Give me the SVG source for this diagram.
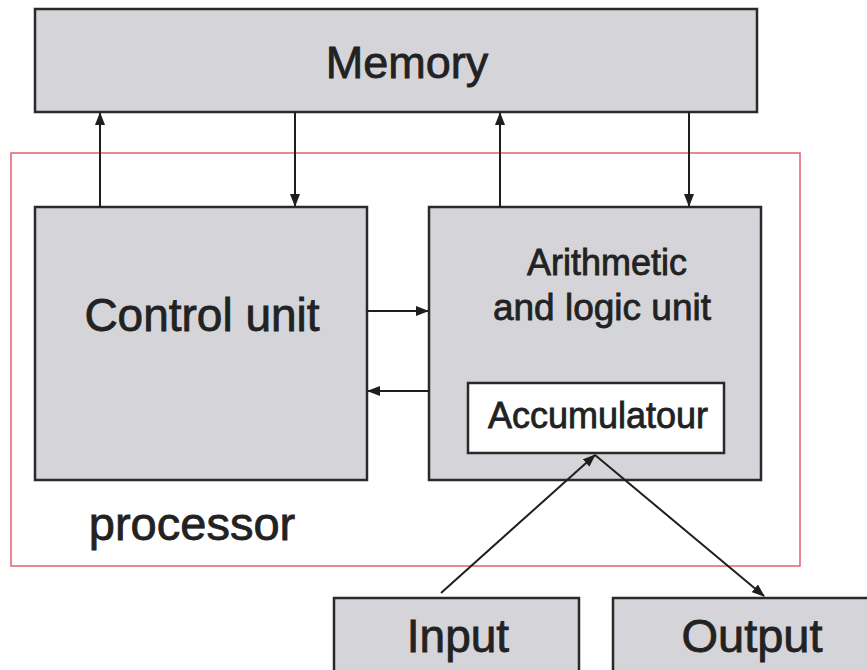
<svg xmlns="http://www.w3.org/2000/svg" width="867" height="670" viewBox="0 0 867 670">
<defs>
<marker id="ah" markerUnits="userSpaceOnUse" markerWidth="13" markerHeight="10" refX="12" refY="5" orient="auto">
<path d="M0,0 L13,5 L0,10 z" fill="#1e1e1e"/>
</marker>
<style>
.box{fill:#d5d5d9;stroke:#2a2a2a;stroke-width:2.5}
.inner{fill:#ffffff;stroke:#2a2a2a;stroke-width:2.5}
.frame{fill:none;stroke:#e06070;stroke-width:1.5}
.t{font-family:"Liberation Sans",Arial,sans-serif;fill:#222;stroke:#222;stroke-width:0.8;text-anchor:middle}
.c{stroke:#1e1e1e;stroke-width:2;fill:none;marker-end:url(#ah)}
</style>
</defs>
<rect width="867" height="670" fill="#ffffff"/>
<g id="processor">
<rect class="frame" x="11" y="153" width="789" height="413"/>
<text class="t" x="192" y="540" font-size="47">processor</text>
</g>
<g id="memory">
<rect class="box" x="35" y="9" width="722" height="103"/>
<text class="t" x="407" y="78" font-size="45">Memory</text>
</g>
<g id="control-unit">
<rect class="box" x="35" y="207" width="332" height="273"/>
<text class="t" x="202" y="331" font-size="46">Control unit</text>
</g>
<g id="alu">
<rect class="box" x="429" y="207" width="332" height="273"/>
<text class="t" x="607" y="275" font-size="36">Arithmetic</text>
<text class="t" x="602" y="320" font-size="37">and logic unit</text>
</g>
<g id="accumulator">
<rect class="inner" x="468" y="383" width="256" height="70"/>
<text class="t" x="598" y="428" font-size="36">Accumulatour</text>
</g>
<g id="input">
<rect class="box" x="334" y="598" width="245" height="80"/>
<text class="t" x="458" y="652" font-size="46">Input</text>
</g>
<g id="output">
<rect class="box" x="613" y="598" width="260" height="80"/>
<text class="t" x="752" y="652" font-size="47">Output</text>
</g>
<g id="connectors">
<line class="c" x1="100" y1="207" x2="100" y2="113"/>
<line class="c" x1="295" y1="112" x2="295" y2="206"/>
<line class="c" x1="500" y1="207" x2="500" y2="113"/>
<line class="c" x1="689" y1="112" x2="689" y2="206"/>
<line class="c" x1="367" y1="311" x2="428" y2="311"/>
<line class="c" x1="429" y1="391" x2="368" y2="391"/>
<line class="c" x1="441" y1="593" x2="595" y2="455"/>
<line class="c" x1="595" y1="455" x2="764" y2="596"/>
</g>
</svg>
